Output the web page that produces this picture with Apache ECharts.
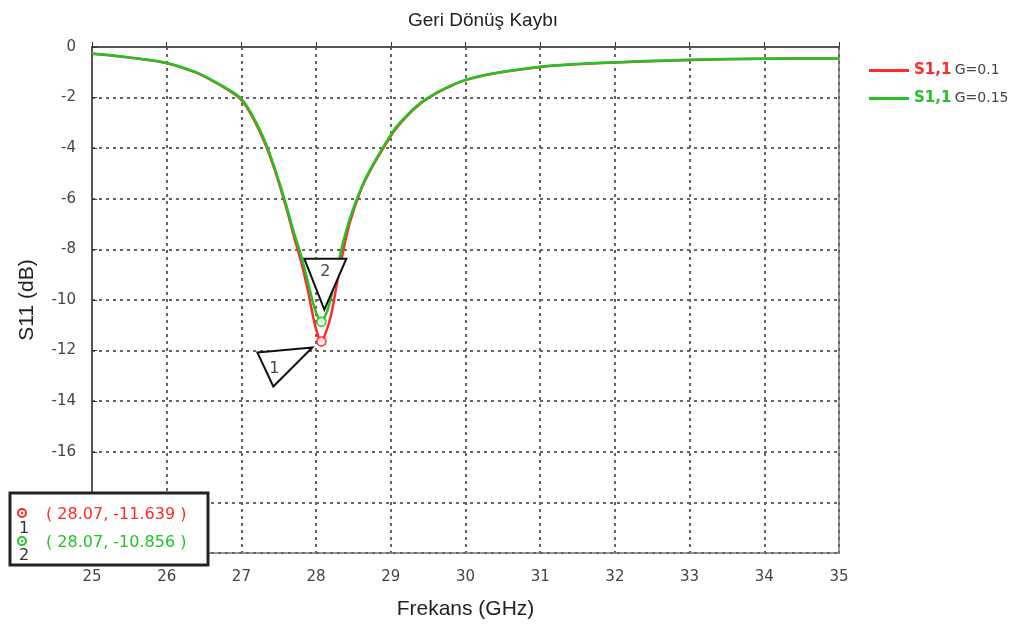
<!DOCTYPE html>
<html>
<head>
<meta charset="utf-8">
<script src="https://cdn.jsdelivr.net/npm/echarts@6/dist/echarts.min.js"></script>
<style>
  html, body { margin: 0; padding: 0; background: #fff; }
  #main { width: 1031px; height: 637px; }
</style>
</head>
<body>
<div id="main"></div>
<script>
// frequency samples (GHz)
const freq = [25, 25.5, 26, 26.4, 26.6, 26.8, 27.0, 27.15, 27.3, 27.45, 27.6, 27.7, 27.8, 27.88, 27.95, 28.0, 28.07,
  28.14, 28.2, 28.27, 28.35, 28.45, 28.6, 28.75, 28.9, 29.05, 29.2, 29.35, 29.5, 29.75, 30.0, 30.4, 31.0, 31.5,
  32.2, 33.0, 34.0, 35.0];
// S11 (dB), G=0.1
const s11G01 = [-0.27, -0.42, -0.64, -1.02, -1.32, -1.66, -2.1, -2.78, -3.7, -4.9, -6.35, -7.45, -8.5, -9.5, -10.5, -11.15, -11.639,
  -11.2, -10.6, -9.5, -8.25, -6.95, -5.65, -4.75, -4.0, -3.3, -2.78, -2.35, -2.02, -1.62, -1.31, -1.04, -0.79, -0.68,
  -0.59, -0.51, -0.46, -0.45];
// S11 (dB), G=0.15
const s11G015 = [-0.26, -0.41, -0.63, -1.0, -1.3, -1.63, -2.05, -2.72, -3.62, -4.82, -6.25, -7.3, -8.25, -9.15, -10.0, -10.5, -10.856,
  -10.5, -9.9, -8.95, -7.85, -6.8, -5.6, -4.7, -3.95, -3.25, -2.75, -2.32, -2.0, -1.6, -1.3, -1.03, -0.78, -0.67,
  -0.58, -0.5, -0.46, -0.45];

const markerX = 28.07;
const names = ['G=0.1', 'G=0.15'];
const colors = ['#ff2a2a', '#22c322'];
const i = freq.indexOf(markerX);

const chart = echarts.init(document.getElementById('main'));

const pairs = arr => freq.map((f, k) => [f, arr[k]]);
const sans = 'Liberation Sans';
const tick = 'DejaVu Sans';

chart.setOption({
  animation: false,
  backgroundColor: '#fff',
  title: {
    text: 'Geri Dönüş Kaybı',
    left: 478, top: 6, textAlign: 'center',
    textStyle: { fontFamily: sans, fontSize: 19, fontWeight: 'normal', color: '#222' }
  },
  legend: {
    orient: 'vertical',
    left: 864, top: 58,
    itemWidth: 40, itemHeight: 3, itemGap: 13,
    icon: 'rect',
    data: names,
    formatter: n => (n === names[0] ? '{r|S1,1}' : '{g|S1,1}') + ' {t|' + n + '}',
    textStyle: {
      rich: {
        r: { color: colors[0], fontSize: 15, fontWeight: 'bold', fontFamily: tick },
        g: { color: colors[1], fontSize: 15, fontWeight: 'bold', fontFamily: tick },
        t: { color: '#444', fontSize: 14, fontFamily: tick }
      }
    }
  },
  grid: {
    left: 92, right: 192, top: 47, bottom: 84,
    show: true, borderColor: '#999', borderWidth: 2
  },
  xAxis: {
    type: 'value', min: 25, max: 35, interval: 1,
    name: 'Frekans (GHz)', nameLocation: 'middle', nameGap: 46,
    nameTextStyle: { fontFamily: sans, fontSize: 21, color: '#222' },
    axisLine: { lineStyle: { color: '#555', width: 2 } },
    axisTick: { show: true, length: 5, inside: true, lineStyle: { color: '#333' } },
    axisLabel: { fontFamily: tick, fontSize: 15, color: '#444', margin: 17 },
    splitLine: { show: true, lineStyle: { color: '#666', type: [3, 4], width: 2 } }
  },
  yAxis: {
    type: 'value', min: -20, max: 0, interval: 2,
    name: 'S11 (dB)', nameLocation: 'middle', nameGap: 54,
    nameTextStyle: { fontFamily: sans, fontSize: 21, color: '#222' },
    axisLine: { show: true, lineStyle: { color: '#555', width: 2 } },
    axisTick: { show: true, length: 5, inside: true, lineStyle: { color: '#333' } },
    axisLabel: { fontFamily: tick, fontSize: 15, color: '#444', margin: 16 },
    splitLine: { show: true, lineStyle: { color: '#666', type: [3, 4], width: 2 } }
  },
  series: [
    {
      name: names[0], type: 'line', smooth: 0.35, showSymbol: false,
      data: pairs(s11G01), color: colors[0], lineStyle: { width: 2.5 }, z: 2
    },
    {
      name: names[1], type: 'line', smooth: 0.35, showSymbol: false,
      data: pairs(s11G015), color: colors[1], lineStyle: { width: 2.5 }, z: 3
    },
    {
      name: 'm1', type: 'scatter', symbol: 'emptyCircle', symbolSize: 9, z: 5,
      data: [[markerX, s11G01[i]]],
      itemStyle: { color: colors[0], borderColor: colors[0], borderWidth: 2 }
    },
    {
      name: 'm2', type: 'scatter', symbol: 'emptyCircle', symbolSize: 9, z: 5,
      data: [[markerX, s11G015[i]]],
      itemStyle: { color: colors[1], borderColor: colors[1], borderWidth: 2 }
    }
  ]
});

// marker annotations (triangles + readout box)
const p1 = chart.convertToPixel({ gridIndex: 0 }, [markerX, s11G01[i]]);
const p2 = chart.convertToPixel({ gridIndex: 0 }, [markerX, s11G015[i]]);
const tri = (p, pts) => pts.map(d => [p[0] + d[0], p[1] + d[1]]);
const txt = { fontFamily: tick, fontSize: 16 };
const bx = 10, by = 493;

chart.setOption({
  graphic: [
    {
      type: 'polygon', z: 10,
      shape: { points: tri(p2, [[-17, -63], [25, -63], [3, -12]]) },
      style: { fill: '#fff', stroke: '#111', lineWidth: 2 }
    },
    {
      type: 'text', z: 11, x: p2[0] + 4, y: p2[1] - 50,
      style: Object.assign({ text: '2', fill: '#445', align: 'center', verticalAlign: 'middle' }, txt)
    },
    {
      type: 'polygon', z: 10,
      shape: { points: tri(p1, [[-64, 11], [-9, 6], [-48, 45]]) },
      style: { fill: '#fff', stroke: '#111', lineWidth: 2 }
    },
    {
      type: 'text', z: 11, x: p1[0] - 47, y: p1[1] + 27,
      style: Object.assign({ text: '1', fill: '#445', align: 'center', verticalAlign: 'middle' }, txt)
    },
    { type: 'rect', z: 100, shape: { x: bx, y: by, width: 198, height: 72 },
      style: { fill: '#fff', stroke: '#222', lineWidth: 3 } },
    { type: 'circle', z: 101, shape: { cx: bx + 12, cy: by + 20, r: 4 },
      style: { fill: '#fff', stroke: colors[0], lineWidth: 2 } },
    { type: 'circle', z: 102, shape: { cx: bx + 12, cy: by + 20, r: 1.2 }, style: { fill: colors[0] } },
    { type: 'text', z: 101, x: bx + 14, y: by + 36,
      style: Object.assign({ text: '1', fill: '#333', align: 'center', verticalAlign: 'middle' }, txt) },
    { type: 'circle', z: 101, shape: { cx: bx + 12, cy: by + 48, r: 4 },
      style: { fill: '#fff', stroke: colors[1], lineWidth: 2 } },
    { type: 'circle', z: 102, shape: { cx: bx + 12, cy: by + 48, r: 1.2 }, style: { fill: colors[1] } },
    { type: 'text', z: 101, x: bx + 14, y: by + 63,
      style: Object.assign({ text: '2', fill: '#333', align: 'center', verticalAlign: 'middle' }, txt) },
    { type: 'text', z: 101, x: bx + 36, y: by + 22,
      style: Object.assign({ text: '( ' + markerX.toFixed(2) + ', ' + s11G01[i].toFixed(3) + ' )', fill: colors[0], verticalAlign: 'middle' }, txt) },
    { type: 'text', z: 101, x: bx + 36, y: by + 50,
      style: Object.assign({ text: '( ' + markerX.toFixed(2) + ', ' + s11G015[i].toFixed(3) + ' )', fill: colors[1], verticalAlign: 'middle' }, txt) }
  ]
});
</script>
</body>
</html>
